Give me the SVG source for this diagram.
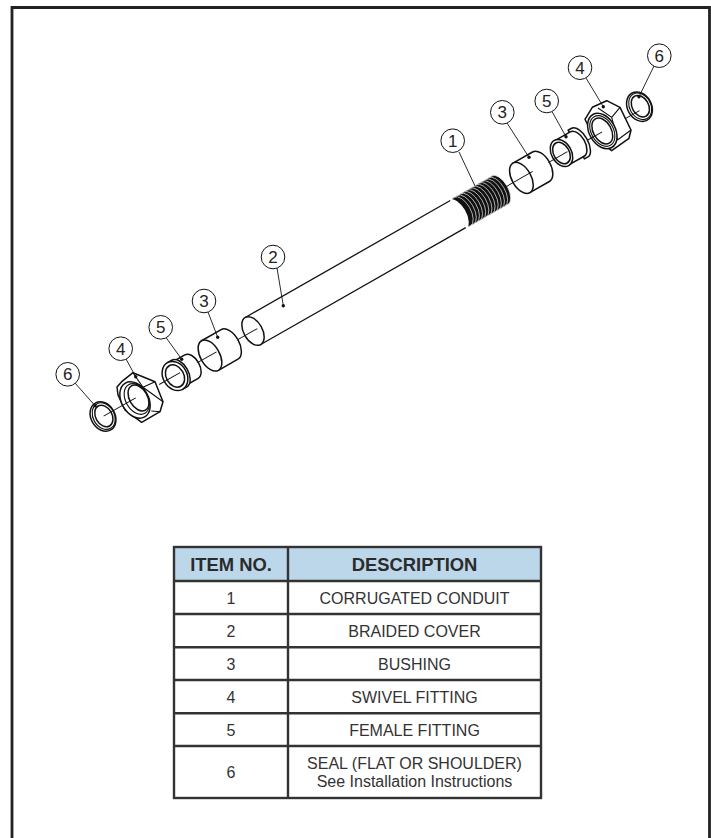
<svg xmlns="http://www.w3.org/2000/svg" width="711" height="838" viewBox="0 0 711 838">
<style>
.p{fill:#fff;stroke:#111;stroke-width:1.5;stroke-linejoin:round}
.t{fill:none;stroke:#111;stroke-width:1.1}
.l{fill:none;stroke:#111;stroke-width:.9}
.c{fill:#fff;stroke:#111;stroke-width:1}
.d{fill:#111}
text{font-family:"Liberation Sans",Arial,sans-serif;fill:#333;text-anchor:middle}
.n{font-size:17px;fill:#222}
.b{font-size:16px}
.h{font-size:18.4px;font-weight:bold;fill:#2b2b2b}
.r{fill:#111;stroke:#fff;stroke-width:.6}
.g{fill:none;stroke:#333;stroke-width:2.4}
</style>
<rect width="711" height="838" fill="#fff"/>
<path d="M12,838V7.500H709.500V838" fill="none" stroke="#222" stroke-width="2.800"/>
<g id="part-1"><g transform="translate(253,331) rotate(-29.7)">
<ellipse class="r" cx="284" rx="8.500" ry="16.500"/><ellipse class="r" cx="280.400" rx="8.500" ry="16.500"/><ellipse class="r" cx="276.800" rx="8.500" ry="16.500"/><ellipse class="r" cx="273.200" rx="8.500" ry="16.500"/><ellipse class="r" cx="269.600" rx="8.500" ry="16.500"/><ellipse class="r" cx="266" rx="8.500" ry="16.500"/><ellipse class="r" cx="262.400" rx="8.500" ry="16.500"/><ellipse class="r" cx="258.800" rx="8.500" ry="16.500"/><ellipse class="r" cx="255.200" rx="8.500" ry="16.500"/><ellipse class="r" cx="251.600" rx="8.500" ry="16.500"/><ellipse class="r" cx="248" rx="8.500" ry="16.500"/><ellipse class="r" cx="244.400" rx="8.500" ry="16.500"/><ellipse class="r" cx="240.800" rx="8.500" ry="16.500"/>
</g></g>
<g id="part-2"><g transform="translate(253,331) rotate(-29.7)">
<path d="M0,-16.500H236A8,16.500 0 0 1 236,16.500H0Z" fill="#fff" stroke="none"/>
<path class="t" style="stroke-width:1.300" d="M0,-15.600H236M0,15.600H236"/>
<ellipse class="p" rx="9.300" ry="15.600"/>
</g></g>
<g id="part-3-left"><g transform="translate(253,331) rotate(-29.7)">
<path class="p" d="M-49.500,-17H-27A9.600,17 0 0 1 -27,17H-49.500Z"/>
<ellipse class="p" cx="-49.500" rx="9.600" ry="17"/>
</g></g>
<g id="part-3-right"><g transform="translate(253,331) rotate(-29.7)">
<path class="p" d="M309,-17H331.500A9.600,17 0 0 1 331.500,17H309Z"/>
<ellipse class="p" cx="309" rx="9.600" ry="17"/>
</g></g>
<g id="part-5-left"><g transform="translate(175,376) rotate(-29.7)">
<path class="p" d="M0,-13.500H19A8,13.500 0 0 1 19,13.500H0Z"/>
<path class="p" d="M0,-15.300H5A9,15.300 0 0 1 5,15.300H0Z"/>
<ellipse class="p" rx="12" ry="15.300"/>
<ellipse class="p" rx="8.800" ry="11.800"/>
</g></g>
<g id="part-5-right"><g transform="translate(561.500,153) rotate(-29.7)">
<path class="p" d="M17,-16.500H21A8,16.500 0 0 1 21,16.500H17Z"/>
<path class="p" d="M0,-14H18A8,14 0 0 1 18,14H0Z"/>
<ellipse class="p" rx="10" ry="14.500"/>
<ellipse class="p" rx="7.800" ry="11.500"/>
</g></g>
<g id="part-4-left">
<path class="p" d="M117,387L121.700,381.700L133,372.700L155,381.700L163,401.700L160,411.700L141.700,422.300L125,410L118,395Z"/>
<path class="t" d="M133,372.700L143,387.300L163,401.700M143,387.300L155,381.700M151.300,411L160,411.700"/>
<g transform="translate(135,400) rotate(-29.7)">
<ellipse class="p" rx="13.500" ry="19.500"/>
<ellipse class="t" cx="2" rx="11" ry="16.500"/><ellipse class="p" cx="4" rx="9" ry="14"/>
</g></g>
<g id="part-4-right">
<path class="p" d="M585,119.300L592.300,107.300L606.700,100.700L620,107.300L631,130L629,138.300L611.700,150.700L593.300,136.700Z"/>
<path class="t" d="M611.700,117.300L620,107.300M617.500,140L631,130M598,108L611.700,117.300L617.500,140"/>
<g transform="translate(602.300,131) rotate(-29.7)">
<ellipse class="p" rx="13" ry="19"/><ellipse class="t" rx="11" ry="16.500"/>
<ellipse class="p" rx="9" ry="14"/>
</g></g>
<g id="part-6-left"><g transform="translate(103,416.500) rotate(-29.7)">
<ellipse class="p" rx="12" ry="15.500"/><ellipse class="t" cx=".8" rx="10.600" ry="14"/>
<ellipse class="p" cx="1" rx="8.200" ry="11.500"/>
</g></g>
<g id="part-6-right"><g transform="translate(639.500,106.700) rotate(-29.7)">
<ellipse class="p" rx="12" ry="15.500"/><ellipse class="t" cx=".8" rx="10.600" ry="14"/>
<ellipse class="p" cx="1" rx="8.200" ry="11.500"/>
</g></g>
<g id="connectors">
<path class="l" transform="translate(253,331) rotate(-29.7)" d="M-172,0H-135M-108,0H-84M-64,0H-42M-18,0H5M290,0H322M340,0H362M385,0H402M428,0H445"/>
<path class="l" d="M459,152L475,186M507,123L529,157.300M552,111.500L566,136.700M586,78L603.300,106.700M654,66L639,96.700M277,268L283.300,305.700M208,312L217.700,337.300M166,337.500L181.700,359.300M126,359L135.700,376.700M75,383L95,405.700"/>
<circle class="d" cx="529" cy="157.300" r="1.700"/><circle class="d" cx="566" cy="136.700" r="1.700"/><circle class="d" cx="603.300" cy="106.700" r="1.700"/><circle class="d" cx="639" cy="96.700" r="1.700"/><circle class="d" cx="283.300" cy="305.700" r="1.700"/><circle class="d" cx="217.700" cy="337.300" r="1.700"/><circle class="d" cx="181.700" cy="359.300" r="1.700"/><circle class="d" cx="135.700" cy="376.700" r="1.700"/><circle class="d" cx="95" cy="405.700" r="1.700"/>
</g>
<g id="label-1"><circle class="c" cx="452.700" cy="140.700" r="11.800"/><text class="n" x="452.700" y="146.700">1</text></g>
<g id="label-2"><circle class="c" cx="273" cy="257" r="11.800"/><text class="n" x="273" y="263">2</text></g>
<g id="label-3-left"><circle class="c" cx="204" cy="301" r="11.800"/><text class="n" x="204" y="307">3</text></g>
<g id="label-3-right"><circle class="c" cx="502.300" cy="112.300" r="11.800"/><text class="n" x="502.300" y="118.300">3</text></g>
<g id="label-4-left"><circle class="c" cx="120.700" cy="348.700" r="11.800"/><text class="n" x="120.700" y="354.700">4</text></g>
<g id="label-4-right"><circle class="c" cx="580" cy="67.700" r="11.800"/><text class="n" x="580" y="73.700">4</text></g>
<g id="label-5-left"><circle class="c" cx="160.700" cy="327.300" r="11.800"/><text class="n" x="160.700" y="333.300">5</text></g>
<g id="label-5-right"><circle class="c" cx="546.700" cy="101" r="11.800"/><text class="n" x="546.700" y="107">5</text></g>
<g id="label-6-left"><circle class="c" cx="67.700" cy="374.300" r="11.800"/><text class="n" x="67.700" y="380.300">6</text></g>
<g id="label-6-right"><circle class="c" cx="659.300" cy="55.700" r="11.800"/><text class="n" x="659.300" y="61.700">6</text></g>
<g id="parts-table">
<rect x="174" y="547" width="367" height="34" fill="#bcd7ea"/>
<rect class="g" x="174" y="547" width="367" height="251"/>
<path class="g" d="M288,547V798M174,581H541M174,614H541M174,647.300H541M174,680H541M174,713.300H541M174,746H541"/>
<text class="h" x="231" y="570.700">ITEM NO.</text><text class="h" x="414.500" y="570.700">DESCRIPTION</text>
<text class="b" x="231" y="604">1</text><text class="b" x="414.500" y="604">CORRUGATED CONDUIT</text>
<text class="b" x="231" y="637">2</text><text class="b" x="414.500" y="637">BRAIDED COVER</text>
<text class="b" x="231" y="670">3</text><text class="b" x="414.500" y="670">BUSHING</text>
<text class="b" x="231" y="703">4</text><text class="b" x="414.500" y="703">SWIVEL FITTING</text>
<text class="b" x="231" y="736">5</text><text class="b" x="414.500" y="736">FEMALE FITTING</text>
<text class="b" x="231" y="778.300">6</text><text class="b" x="414.500" y="769.300">SEAL (FLAT OR SHOULDER)</text>
<text class="b" x="414.500" y="787.300">See Installation Instructions</text>
</g>
</svg>
